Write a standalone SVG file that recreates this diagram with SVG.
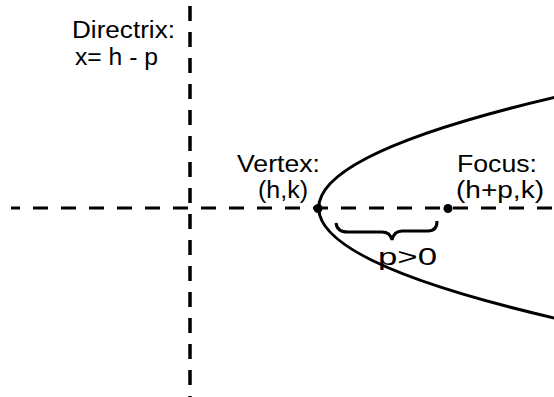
<svg xmlns="http://www.w3.org/2000/svg" width="554" height="397" viewBox="0 0 554 397">
<style>
.t{font-family:"Liberation Sans",Arial,sans-serif;font-size:23px;fill:#000}
.ln{fill:none;stroke:#000}
</style>
<rect width="554" height="397" fill="#fff"/>
<g id="connectors">
<path id="axis" class="ln" d="M11,208 H554" stroke-width="3" stroke-dasharray="15,13" stroke-dashoffset="6"/>
<path id="directrix-line" class="ln" d="M190,6 V397" stroke-width="3.5" stroke-dasharray="15,11"/>
<path id="brace" class="ln" stroke-width="3" d="M336,223 Q337,232 348,232 L380,232 Q390,231 392,240 Q394,230 404,231 L428,231 Q437,231 437,221"/>
</g>
<g id="parabola"><path class="ln" stroke-width="3" d="M556,97 Q78,209 563,320"/></g>
<g id="directrix">
<text class="t" x="72" y="38" font-size="22" textLength="103" lengthAdjust="spacingAndGlyphs">Directrix:</text>
<text class="t" x="75" y="65" font-size="22" textLength="83" lengthAdjust="spacingAndGlyphs">x= h - p</text>
</g>
<g id="vertex">
<circle cx="318" cy="208.5" r="4.5"/>
<text class="t" x="237" y="172" textLength="83" lengthAdjust="spacingAndGlyphs">Vertex:</text>
<text class="t" x="258" y="198" textLength="50" lengthAdjust="spacingAndGlyphs">(h,k)</text>
</g>
<g id="focus">
<circle cx="448" cy="208.5" r="4.5"/>
<text class="t" x="457" y="172" textLength="80" lengthAdjust="spacingAndGlyphs">Focus:</text>
<text class="t" x="456" y="198" textLength="88" lengthAdjust="spacingAndGlyphs">(h+p,k)</text>
</g>
<g id="p-label">
<text class="t" x="378" y="265" font-size="27" textLength="59" lengthAdjust="spacingAndGlyphs">p&gt;0</text>
</g>
</svg>
